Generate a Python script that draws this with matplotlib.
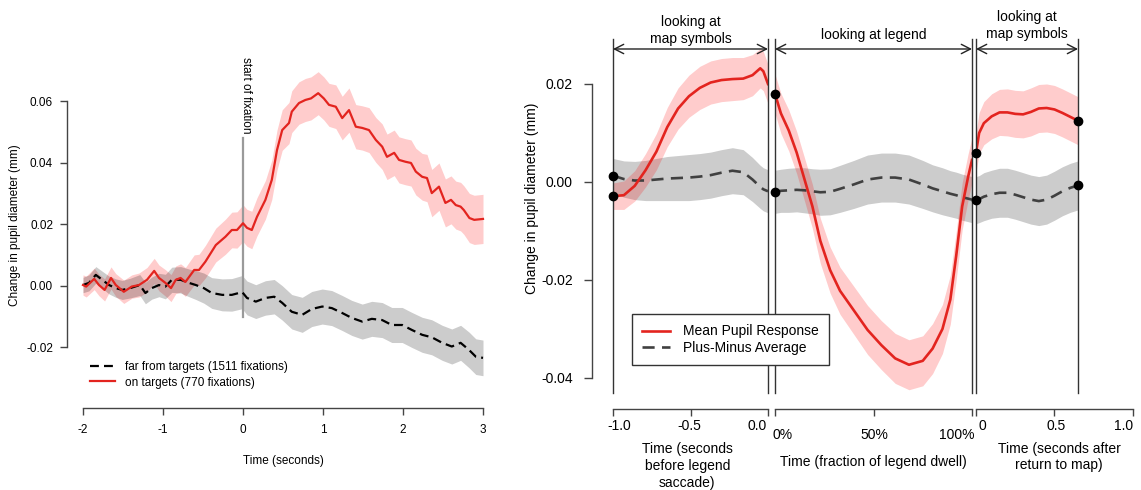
import numpy as np
import matplotlib
matplotlib.use("Agg")
import matplotlib.pyplot as plt
import matplotlib.transforms as mtransforms
from matplotlib.lines import Line2D

plt.rcParams['font.family'] = ['Liberation Sans', 'DejaVu Sans']

# ---- left panel: pupil change around fixation onset (seconds) ----
on_t = [-2.0, -1.96, -1.86, -1.80, -1.73, -1.65, -1.59, -1.49, -1.39, -1.30,
        -1.20, -1.11, -1.05, -0.97, -0.90, -0.84, -0.78, -0.72, -0.61, -0.55,
        -0.47, -0.34, -0.22, -0.14, -0.075, 0.0, 0.05, 0.11, 0.175, 0.28,
        0.36, 0.425, 0.49, 0.575, 0.61, 0.70, 0.78, 0.85, 0.94, 1.01,
        1.075, 1.16, 1.24, 1.325, 1.41, 1.49, 1.575, 1.66, 1.74, 1.80,
        1.89, 1.95, 2.03, 2.10, 2.16, 2.24, 2.30, 2.36, 2.45, 2.53,
        2.60, 2.66, 2.72, 2.76, 2.83, 2.89, 3.0]
on_mean = [0.0003, -0.0002, 0.0023, 0.0003, -0.0013, 0.0026, 0.0003, -0.0019, -0.0002, 0.0003,
           0.0020, 0.0049, 0.0026, 0.0010, -0.0007, 0.0020, 0.0026, 0.0013, 0.0052, 0.0052,
           0.0079, 0.0133, 0.0160, 0.0182, 0.0182, 0.0204, 0.0189, 0.0182, 0.0225, 0.0280,
           0.0345, 0.0442, 0.0507, 0.0530, 0.0567, 0.0595, 0.0605, 0.0610, 0.0627, 0.0610,
           0.0589, 0.0583, 0.0546, 0.0572, 0.0518, 0.0514, 0.0507, 0.0475, 0.0453, 0.0420,
           0.0433, 0.0410, 0.0404, 0.0400, 0.0372, 0.0355, 0.0351, 0.0302, 0.0323, 0.0270,
           0.0280, 0.0263, 0.0258, 0.0247, 0.0221, 0.0215, 0.0218]
on_hw = [0.0033, 0.0034, 0.0035, 0.0035, 0.0036, 0.0036, 0.0037, 0.0038, 0.0038, 0.0039,
         0.0040, 0.0041, 0.0042, 0.0043, 0.0044, 0.0045, 0.0046, 0.0047, 0.0049, 0.0051,
         0.0053, 0.0055, 0.0057, 0.0058, 0.0059, 0.0060, 0.0060, 0.0061, 0.0062, 0.0063,
         0.0064, 0.0065, 0.0066, 0.0067, 0.0068, 0.0069, 0.0070, 0.0070, 0.0070, 0.0070,
         0.0070, 0.0071, 0.0071, 0.0072, 0.0072, 0.0072, 0.0073, 0.0073, 0.0074, 0.0074,
         0.0074, 0.0075, 0.0075, 0.0075, 0.0076, 0.0076, 0.0077, 0.0077, 0.0077, 0.0078,
         0.0078, 0.0078, 0.0079, 0.0079, 0.0080, 0.0080, 0.0080]

far_t = [-2.0, -1.925, -1.84, -1.76, -1.675, -1.59, -1.51, -1.41, -1.29, -1.22,
         -1.14, -1.05, -0.97, -0.89, -0.78, -0.675, -0.59, -0.49, -0.39, -0.26,
         -0.14, -0.01, 0.05, 0.16, 0.28, 0.39, 0.49, 0.61, 0.74, 0.86,
         0.99, 1.11, 1.24, 1.36, 1.49, 1.61, 1.74, 1.86, 1.99, 2.11,
         2.24, 2.36, 2.49, 2.61, 2.72, 2.825, 2.91, 3.0]
far_mean = [0.0003, 0.0010, 0.0036, 0.0020, 0.0003, -0.0007, -0.0013, -0.0007, 0.0003, -0.0023,
            -0.0007, 0.0003, -0.0002, 0.0020, 0.0020, 0.0010, 0.0003, -0.0007, -0.0023, -0.0029,
            -0.0029, -0.0020, -0.0039, -0.0051, -0.0039, -0.0035, -0.0055, -0.0084, -0.0094, -0.0075,
            -0.0067, -0.0072, -0.0088, -0.0104, -0.0116, -0.0107, -0.0111, -0.0127, -0.0127, -0.0143,
            -0.0159, -0.0167, -0.0185, -0.0197, -0.0185, -0.0208, -0.0230, -0.0234]
far_hw = [0.0025, 0.0026, 0.0027, 0.0028, 0.0029, 0.0030, 0.0031, 0.0032, 0.0034, 0.0035,
          0.0036, 0.0038, 0.0040, 0.0041, 0.0043, 0.0045, 0.0047, 0.0049, 0.0050, 0.0052,
          0.0053, 0.0054, 0.0055, 0.0055, 0.0056, 0.0056, 0.0056, 0.0056, 0.0057, 0.0057,
          0.0057, 0.0057, 0.0057, 0.0057, 0.0057, 0.0057, 0.0057, 0.0057, 0.0057, 0.0057,
          0.0057, 0.0057, 0.0057, 0.0057, 0.0057, 0.0058, 0.0058, 0.0058]

left_xticks = [-2, -1, 0, 1, 2, 3]
left_xlabels = ['-2', '-1', '0', '1', '2', '3']
left_yticks = [-0.02, 0.0, 0.02, 0.04, 0.06]
left_ylabels = ['-0.02', '0.00', '0.02', '0.04', '0.06']

# ---- right panel: before legend (s), legend dwell (fraction), after (s) ----
before_t = [-1.0, -0.93, -0.86, -0.79, -0.72, -0.65, -0.58, -0.51, -0.44, -0.37,
            -0.30, -0.23, -0.16, -0.10, -0.05, -0.03, 0.0]
before_mean = [-0.0029, -0.0027, -0.0008, 0.0024, 0.0062, 0.0112, 0.0150, 0.0175, 0.0192, 0.0203,
               0.0208, 0.0210, 0.0211, 0.0218, 0.0232, 0.0226, 0.0200]
before_mean_hw = [0.0027, 0.0029, 0.0031, 0.0034, 0.0037, 0.0040, 0.0042, 0.0043, 0.0044, 0.0044,
                  0.0044, 0.0044, 0.0043, 0.0042, 0.0040, 0.0040, 0.0040]
before_pm = [0.0013, 0.0006, 0.0003, 0.0003, 0.0005, 0.0007, 0.0008, 0.0009, 0.0011, 0.0014,
             0.0019, 0.0023, 0.0020, 0.0005, -0.0010, -0.0015, -0.0019]
before_pm_hw = [0.0035, 0.0037, 0.0039, 0.0041, 0.0043, 0.0045, 0.0046, 0.0047, 0.0047, 0.0047,
                0.0047, 0.0047, 0.0046, 0.0045, 0.0044, 0.0044, 0.0044]

dwell_f = [0.0, 0.03, 0.07, 0.11, 0.15, 0.19, 0.23, 0.28, 0.33, 0.40, 0.47,
           0.54, 0.61, 0.68, 0.75, 0.80, 0.85, 0.89, 0.92, 0.95, 0.98, 1.0]
dwell_mean = [0.0180, 0.0140, 0.0105, 0.0060, 0.0005, -0.0050, -0.0120, -0.0180, -0.0222, -0.0262, -0.0302,
              -0.0333, -0.0360, -0.0373, -0.0365, -0.0340, -0.0300, -0.0240, -0.0150, -0.0050, 0.0010, 0.0045]
dwell_mean_hw = [0.0040, 0.0041, 0.0042, 0.0043, 0.0044, 0.0045, 0.0046, 0.0047, 0.0048, 0.0049, 0.0050,
                 0.0050, 0.0051, 0.0051, 0.0051, 0.0051, 0.0050, 0.0050, 0.0049, 0.0048, 0.0047, 0.0046]
dwell_pm = [-0.0020, -0.0018, -0.0017, -0.0016, -0.0017, -0.0019, -0.0021, -0.0020, -0.0014, -0.0005, 0.0005,
            0.0009, 0.0009, 0.0005, -0.0005, -0.0013, -0.0019, -0.0024, -0.0027, -0.0031, -0.0034, -0.0036]
dwell_pm_hw = [0.0044, 0.0044, 0.0045, 0.0045, 0.0046, 0.0046, 0.0047, 0.0047, 0.0048, 0.0049, 0.0050,
               0.0050, 0.0050, 0.0050, 0.0049, 0.0048, 0.0048, 0.0047, 0.0047, 0.0047, 0.0047, 0.0047]

after_t = [0.0, 0.02, 0.05, 0.1, 0.15, 0.2, 0.25, 0.3, 0.35, 0.4, 0.45, 0.5, 0.55, 0.6, 0.65]
after_mean = [0.0060, 0.0100, 0.0120, 0.0134, 0.0142, 0.0142, 0.0139, 0.0138, 0.0143, 0.0150,
              0.0151, 0.0148, 0.0141, 0.0133, 0.0125]
after_mean_hw = [0.0040, 0.0042, 0.0044, 0.0046, 0.0047, 0.0048, 0.0048, 0.0048, 0.0049, 0.0049,
                 0.0049, 0.0049, 0.0049, 0.0049, 0.0049]
after_pm = [-0.0037, -0.0035, -0.0030, -0.0025, -0.0022, -0.0022, -0.0026, -0.0031, -0.0036, -0.0039,
            -0.0036, -0.0028, -0.0019, -0.0012, -0.0007]
after_pm_hw = [0.0048, 0.0048, 0.0049, 0.0049, 0.0050, 0.0050, 0.0050, 0.0050, 0.0050, 0.0050,
               0.0050, 0.0050, 0.0050, 0.0050, 0.0050]

right_yticks = [-0.04, -0.02, 0.0, 0.02]
right_ylabels = ['-0.04', '-0.02', '0.00', '0.02']
seg_ticks = [[-1.0, -0.5, 0.0], [0.0, 0.5, 1.0], [0.0, 0.5, 1.0]]
seg_ticklabels = [['-1.0', '-0.5', '0.0'], ['0%', '50%', '100%'], ['0', '0.5', '1.0']]

W, H, DPI = 1141, 490, 100
RED = '#e3241f'
AXC = '#444444'

fig = plt.figure(figsize=(W / DPI, H / DPI), dpi=DPI)


def px_axes(left, right, top, bottom):
    ax = fig.add_axes([left / W, 1 - bottom / H, (right - left) / W, (bottom - top) / H])
    ax.set_facecolor('none')
    for s in ('top', 'right'):
        ax.spines[s].set_visible(False)
    for s in ('left', 'bottom'):
        ax.spines[s].set_color(AXC)
        ax.spines[s].set_linewidth(1)
    return ax


def band(ax, x, y, hw, color):
    y, hw = np.asarray(y), np.asarray(hw)
    ax.fill_between(x, y - hw, y + hw, color=color, alpha=0.2, lw=0)


# ================= left panel =================
ax = px_axes(67, 499, 40, 408)
ax.set_xlim(-2.2, 3.2)
ax.set_ylim(-0.0397, 0.0800)
band(ax, on_t, on_mean, on_hw, 'red')
band(ax, far_t, far_mean, far_hw, 'black')
ax.plot([0, 0], [-0.0101, 0.0481], color='#9a9a9a', lw=1.6)
ax.text(0.04, 0.0745, 'start of fixation', rotation=270, ha='center', va='top', fontsize=8.5)
ax.plot(far_t, far_mean, color='black', lw=1.6, dashes=(4.0, 2.3))
ax.plot(on_t, on_mean, color=RED, lw=1.6)

ax.spines['left'].set_bounds(-0.02, 0.06)
ax.spines['bottom'].set_bounds(-2, 3)
ax.set_xticks(left_xticks)
ax.set_xticklabels(left_xlabels)
ax.set_yticks(left_yticks)
ax.set_yticklabels(left_ylabels)
ax.tick_params(direction='out', length=5, width=1, color=AXC, labelsize=8.5)
ax.tick_params(axis='x', pad=6.6)
ax.tick_params(axis='y', pad=5)

fig.text(15 / W, 1 - 225 / H, 'Change in pupil diameter (mm)', rotation=90,
         ha='center', va='center', fontsize=8.5)
fig.text(283 / W, 1 - 461 / H, 'Time (seconds)', ha='center', va='center', fontsize=8.5)

left_handles = [Line2D([], [], color='black', lw=1.6, dashes=(4.0, 2.3)),
                Line2D([], [], color=RED, lw=1.6)]
ax.legend(left_handles, ['far from targets (1511 fixations)', 'on targets (770 fixations)'],
          loc='upper left', bbox_to_anchor=(90 / W, 1 - 361 / H), bbox_transform=fig.transFigure,
          frameon=False, fontsize=8.5, handlelength=2.1, handletextpad=0.85,
          borderpad=0, borderaxespad=0, labelspacing=0.3)

# ================= right panel =================
RY = (-0.04633, 0.02918)
ARROW_Y = 0.02714
a1 = px_axes(592, 768, 39, 409)
a1.set_xlim(-1.1355, 0)
a2 = px_axes(775, 972, 39, 409)
a2.set_xlim(0, 1)
a3 = px_axes(976, 1140, 39, 409)
a3.set_xlim(0, 1.0446)

segments = [
    (a1, before_t, before_mean, before_mean_hw, before_pm, before_pm_hw),
    (a2, dwell_f, dwell_mean, dwell_mean_hw, dwell_pm, dwell_pm_hw),
    (a3, after_t, after_mean, after_mean_hw, after_pm, after_pm_hw),
]

for sax, x, m, mhw, p, phw in segments:
    sax.set_ylim(RY)
    band(sax, x, p, phw, 'black')
    band(sax, x, m, mhw, 'red')
    sax.plot(x, p, color='#404040', lw=1.9, dashes=(4.6, 2.8))
    sax.plot(x, m, color=RED, lw=1.9)
    for edge in (x[0], x[-1]):
        sax.axvline(edge, ymin=0.043, ymax=1, color='#333333', lw=1, clip_on=False)
    sax.annotate('', xy=(x[-1], ARROW_Y), xytext=(x[0], ARROW_Y),
                 arrowprops=dict(arrowstyle='<->,head_length=0.55,head_width=0.28',
                                 color='#222222', lw=1, shrinkA=0, shrinkB=0,
                                 mutation_scale=12))
    sax.plot([x[0], x[0]], [m[0], p[0]], 'o', color='black', ms=6, clip_on=False, zorder=6)

a3.plot([after_t[-1], after_t[-1]], [after_mean[-1], after_pm[-1]], 'o', color='black',
        ms=6, clip_on=False, zorder=6)

# axes styling
a1.spines['left'].set_bounds(-0.04, 0.02)
a1.set_yticks(right_yticks)
a1.set_yticklabels(right_ylabels)
a1.tick_params(axis='y', direction='out', length=6, width=1, color=AXC, labelsize=10, pad=7.7)
for sax in (a2, a3):
    sax.spines['left'].set_visible(False)
    sax.tick_params(axis='y', left=False, labelleft=False)

tick_y = [426, 435, 426]
tick_dx = [[6, -1, -11], [8, 0.5, -15], [6.5, 1.5, -9.5]]
for sax, ticks, labels, ty, dxs in zip((a1, a2, a3), seg_ticks, seg_ticklabels, tick_y, tick_dx):
    sax.spines['bottom'].set_bounds(ticks[0], ticks[-1])
    sax.set_xticks(ticks)
    sax.tick_params(axis='x', direction='out', length=5, width=1, color=AXC, labelbottom=False)
    trans = mtransforms.blended_transform_factory(sax.transData, fig.transFigure)
    for t, lab, dx in zip(ticks, labels, dxs):
        sax.text(t, 1 - ty / H, lab, ha='center', va='center', fontsize=10,
                 transform=mtransforms.offset_copy(trans, fig=fig, x=dx, units='dots'))

t1 = mtransforms.blended_transform_factory(a1.transData, fig.transFigure)
t2 = mtransforms.blended_transform_factory(a2.transData, fig.transFigure)
t3 = mtransforms.blended_transform_factory(a3.transData, fig.transFigure)

a1.text(-0.5, 1 - 45.5 / H, 'looking at\nmap symbols', transform=t1, ha='center', va='bottom',
        fontsize=10, linespacing=1.25)
a2.text(0.5, 1 - 42.5 / H, 'looking at legend', transform=t2, ha='center', va='bottom', fontsize=10)
a3.text(0.325, 1 - 41 / H, 'looking at\nmap symbols', transform=t3, ha='center', va='bottom',
        fontsize=10, linespacing=1.25)

a1.text(-0.52, 1 - 466 / H, 'Time (seconds\nbefore legend\nsaccade)', transform=t1,
        ha='center', va='center', fontsize=10, linespacing=1.25)
a2.text(0.5, 1 - 462 / H, 'Time (fraction of legend dwell)', transform=t2,
        ha='center', va='center', fontsize=10)
a3.text(0.53, 1 - 457 / H, 'Time (seconds after\nreturn to map)', transform=t3,
        ha='center', va='center', fontsize=10, linespacing=1.25)

fig.text(532 / W, 1 - 198 / H, 'Change in pupil diameter (mm)', rotation=90,
         ha='center', va='center', fontsize=10)

right_handles = [Line2D([], [], color=RED, lw=1.9),
                 Line2D([], [], color='#404040', lw=1.9, dashes=(4.6, 2.8))]
leg = fig.legend(right_handles, ['Mean Pupil Response', 'Plus-Minus Average'],
                 loc='upper left', bbox_to_anchor=(632 / W, 1 - 314 / H),
                 bbox_transform=fig.transFigure, fontsize=10, frameon=True, fancybox=False,
                 edgecolor='#333333', framealpha=1, borderpad=0.75, borderaxespad=0,
                 handlelength=2.0, handletextpad=0.9, labelspacing=0.15)
leg.get_frame().set_linewidth(1)

fig.savefig('out.png', dpi=DPI)
